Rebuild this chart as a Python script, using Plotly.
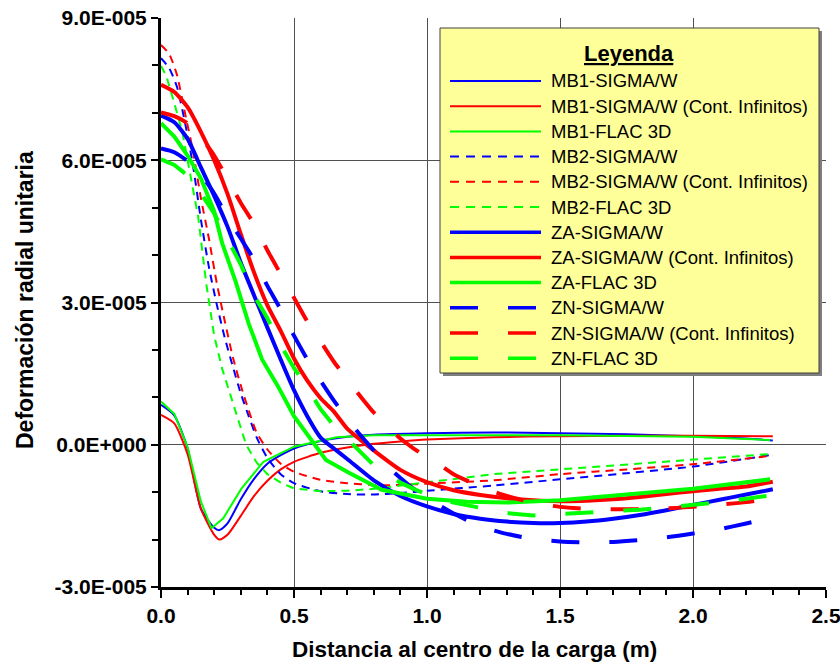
import plotly.graph_objects as go

# ---------------- data (y values in units of 1E-005) ----------------
x_mb1_sig = [0, 0.05, 0.1, 0.15, 0.2, 0.22, 0.25, 0.3, 0.35, 0.4, 0.45, 0.5, 0.6, 0.7, 0.8, 1.0, 1.25, 1.5, 1.75, 2.0, 2.2, 2.3]
y_mb1_sig = [0.84, 0.62, -0.08, -1.35, -1.75, -1.8, -1.66, -1.15, -0.72, -0.4, -0.22, -0.08, 0.08, 0.17, 0.21, 0.24, 0.26, 0.24, 0.22, 0.18, 0.13, 0.09]

x_mb1_inf = [0, 0.05, 0.1, 0.15, 0.2, 0.22, 0.25, 0.3, 0.35, 0.4, 0.45, 0.5, 0.6, 0.7, 0.8, 0.9, 1.0, 1.25, 1.5, 1.75, 2.0, 2.3]
y_mb1_inf = [0.63, 0.45, -0.2, -1.35, -1.9, -2.0, -1.9, -1.5, -1.08, -0.76, -0.52, -0.36, -0.17, -0.06, 0.02, 0.07, 0.11, 0.16, 0.18, 0.19, 0.19, 0.18]

x_mb1_flac = [0, 0.05, 0.1, 0.15, 0.19, 0.234, 0.303, 0.385, 0.5, 0.66, 0.8, 1.0, 1.5, 2.0, 2.29]
y_mb1_flac = [0.91, 0.65, -0.05, -1.2, -1.76, -1.55, -0.92, -0.36, -0.04, 0.16, 0.2, 0.2, 0.2, 0.17, 0.1]

x_mb2_sig = [0, 0.03, 0.06, 0.09, 0.12, 0.15, 0.18, 0.21, 0.24, 0.27, 0.3, 0.33, 0.36, 0.4, 0.45, 0.5, 0.6, 0.7, 0.8, 0.9, 1.0, 1.25, 1.5, 1.75, 2.0, 2.3]
y_mb2_sig = [8.15, 7.95, 7.55, 6.8, 5.9, 4.75, 3.75, 2.95, 2.25, 1.65, 1.08, 0.6, 0.15, -0.28, -0.62, -0.81, -0.98, -1.04, -1.05, -1.02, -0.97, -0.86, -0.73, -0.6, -0.46, -0.21]

x_mb2_inf = [0, 0.03, 0.06, 0.09, 0.12, 0.15, 0.18, 0.21, 0.24, 0.27, 0.3, 0.33, 0.36, 0.4, 0.45, 0.5, 0.6, 0.7, 0.8, 0.9, 1.0, 1.25, 1.5, 1.75, 2.0, 2.3]
y_mb2_inf = [8.43, 8.25, 7.8, 7.0, 6.2, 5.2, 4.35, 3.4, 2.6, 1.85, 1.25, 0.72, 0.25, -0.1, -0.4, -0.57, -0.74, -0.81, -0.85, -0.85, -0.82, -0.75, -0.62, -0.52, -0.41, -0.23]

x_mb2_flac = [0, 0.02, 0.05, 0.08, 0.11, 0.14, 0.17, 0.2, 0.23, 0.26, 0.29, 0.32, 0.36, 0.4, 0.45, 0.5, 0.6, 0.7, 0.8, 0.9, 1.0, 1.1, 1.25, 1.5, 1.75, 2.0, 2.3]
y_mb2_flac = [7.99, 7.78, 7.2, 6.6, 5.7, 4.8, 3.4, 2.3, 1.6, 1.05, 0.5, 0.0, -0.38, -0.62, -0.8, -0.92, -0.98, -0.97, -0.93, -0.86, -0.78, -0.71, -0.62, -0.52, -0.42, -0.32, -0.19]

x_za_sig = [0, 0.05, 0.1, 0.15, 0.2, 0.25, 0.3, 0.35, 0.4, 0.45, 0.5, 0.55, 0.6, 0.65, 0.7, 0.8, 0.9, 1.0, 1.1, 1.2, 1.3, 1.4, 1.5, 1.6, 1.7, 1.8, 1.9, 2.0, 2.1, 2.2, 2.3]
y_za_sig = [6.94, 6.8, 6.45, 5.85, 5.25, 4.6, 3.84, 3.15, 2.47, 1.8, 1.15, 0.6, 0.15, -0.08, -0.3, -0.75, -1.08, -1.3, -1.46, -1.56, -1.62, -1.65, -1.65, -1.62, -1.56, -1.48, -1.38, -1.27, -1.16, -1.05, -0.94]

x_za_inf = [0, 0.05, 0.1, 0.15, 0.2, 0.25, 0.3, 0.35, 0.4, 0.45, 0.5, 0.55, 0.6, 0.65, 0.7, 0.75, 0.8, 0.9, 1.0, 1.1, 1.2, 1.3, 1.4, 1.5, 1.6, 1.7, 1.8, 1.9, 2.0, 2.1, 2.2, 2.3]
y_za_inf = [7.59, 7.44, 7.12, 6.6, 6.0, 5.29, 4.44, 3.63, 2.94, 2.4, 1.82, 1.35, 0.98, 0.7, 0.34, 0.1, -0.12, -0.53, -0.79, -0.96, -1.06, -1.13, -1.17, -1.19, -1.18, -1.15, -1.1, -1.04, -0.98, -0.93, -0.88, -0.78]

x_za_flac = [0, 0.05, 0.1, 0.15, 0.2, 0.23, 0.28, 0.33, 0.38, 0.44, 0.5, 0.62, 0.71, 0.83, 1.0, 1.15, 1.3, 1.5, 2.0, 2.29]
y_za_flac = [6.78, 6.5, 6.1, 5.62, 4.92, 4.25, 3.45, 2.55, 1.8, 1.23, 0.6, -0.32, -0.6, -0.95, -1.14, -1.2, -1.22, -1.17, -0.93, -0.73]

x_zn_sig = [0, 0.05, 0.1, 0.15, 0.2, 0.25, 0.3, 0.35, 0.4, 0.45, 0.5, 0.55, 0.6, 0.65, 0.7, 0.75, 0.8, 0.85, 0.9, 0.95, 1.0, 1.1, 1.2, 1.3, 1.4, 1.5, 1.6, 1.7, 1.8, 1.9, 2.0, 2.1, 2.2, 2.3]
y_zn_sig = [6.25, 6.17, 5.98, 5.7, 5.3, 4.8, 4.35, 3.9, 3.35, 2.85, 2.3, 1.8, 1.35, 0.93, 0.55, 0.2, -0.12, -0.45, -0.7, -0.93, -1.12, -1.45, -1.72, -1.88, -1.99, -2.04, -2.06, -2.05, -2.01, -1.95, -1.87, -1.78, -1.66, -1.53]

x_zn_inf = [0, 0.05, 0.1, 0.15, 0.2, 0.25, 0.3, 0.35, 0.4, 0.45, 0.5, 0.55, 0.6, 0.65, 0.7, 0.75, 0.8, 0.85, 0.9, 0.95, 1.0, 1.05, 1.1, 1.2, 1.3, 1.4, 1.5, 1.6, 1.7, 1.8, 1.9, 2.0, 2.1, 2.2, 2.3]
y_zn_inf = [7.01, 6.93, 6.78, 6.48, 6.1, 5.6, 5.1, 4.65, 4.1, 3.6, 3.1, 2.6, 2.18, 1.75, 1.38, 1.02, 0.68, 0.4, 0.13, -0.08, -0.26, -0.43, -0.62, -0.88, -1.08, -1.22, -1.31, -1.35, -1.36, -1.36, -1.34, -1.31, -1.26, -1.21, -1.12]

x_zn_flac = [0, 0.05, 0.1, 0.15, 0.2, 0.25, 0.3, 0.35, 0.4, 0.45, 0.5, 0.55, 0.6, 0.65, 0.7, 0.75, 0.8, 0.85, 0.9, 0.95, 1.0, 1.1, 1.2, 1.3, 1.4, 1.5, 1.6, 1.7, 1.8, 1.9, 2.0, 2.1, 2.2, 2.3]
y_zn_flac = [6.02, 5.9, 5.68, 5.3, 4.88, 4.35, 3.8, 3.15, 2.67, 2.1, 1.62, 1.2, 0.75, 0.4, 0.12, -0.17, -0.43, -0.63, -0.8, -0.93, -1.05, -1.22, -1.33, -1.44, -1.49, -1.46, -1.44, -1.41, -1.37, -1.32, -1.27, -1.21, -1.14, -1.06]

names = ["MB1-SIGMA/W", "MB1-SIGMA/W (Cont. Infinitos)", "MB1-FLAC 3D",
         "MB2-SIGMA/W", "MB2-SIGMA/W (Cont. Infinitos)", "MB2-FLAC 3D",
         "ZA-SIGMA/W", "ZA-SIGMA/W (Cont. Infinitos)", "ZA-FLAC 3D",
         "ZN-SIGMA/W", "ZN-SIGMA/W (Cont. Infinitos)", "ZN-FLAC 3D"]
xs = [x_mb1_sig, x_mb1_inf, x_mb1_flac, x_mb2_sig, x_mb2_inf, x_mb2_flac,
      x_za_sig, x_za_inf, x_za_flac, x_zn_sig, x_zn_inf, x_zn_flac]
ys = [y_mb1_sig, y_mb1_inf, y_mb1_flac, y_mb2_sig, y_mb2_inf, y_mb2_flac,
      y_za_sig, y_za_inf, y_za_flac, y_zn_sig, y_zn_inf, y_zn_flac]

y_tick_vals = [-3e-5, 0, 3e-5, 6e-5, 9e-5]
y_tick_text = ["-3.0E-005", "0.0E+000", "3.0E-005", "6.0E-005", "9.0E-005"]
x_tick_vals = [0, 0.5, 1.0, 1.5, 2.0, 2.5]
x_tick_text = ["0.0", "0.5", "1.0", "1.5", "2.0", "2.5"]

# ---------------- styles ----------------
colors = ["#0000FF", "#FF0000", "#00FF00"] * 4
widths = [2] * 6 + [4] * 6
dashes = ["solid"] * 3 + ["8px,6px"] * 3 + ["solid"] * 3 + ["28px,30px"] * 3
shapes_line = ["spline", "spline", "linear"] * 4

FONT = "Liberation Sans, Arial, sans-serif"

fig = go.Figure()
for i in range(12):
    fig.add_trace(go.Scatter(
        x=xs[i], y=[v * 1e-5 for v in ys[i]], mode="lines", name=names[i],
        line=dict(color=colors[i], width=widths[i], dash=dashes[i],
                  shape=shapes_line[i], smoothing=0.6 if shapes_line[i] == "spline" else None),
        showlegend=False, hoverinfo="skip"))

# plot area in page pixels (body margin removed by post_script)
L, R, T, B = 161, 826, 18, 587
W, H = 840, 666
def px_x(p):
    return (p - L) / (R - L)
def px_y(p):
    return (B - p) / (B - T)

shapes = []
annotations = []
# legend box with shadow
shapes.append(dict(type="rect", xref="paper", yref="paper",
                   x0=px_x(443), x1=px_x(822), y0=px_y(376), y1=px_y(31),
                   fillcolor="#7f7f7f", line=dict(width=0), layer="above"))
shapes.append(dict(type="rect", xref="paper", yref="paper",
                   x0=px_x(440), x1=px_x(819), y0=px_y(373), y1=px_y(28),
                   fillcolor="#FFFF99", line=dict(color="#404040", width=1), layer="above"))
annotations.append(dict(xref="paper", yref="paper", x=px_x(629), y=px_y(54),
                        text="<b><u>Leyenda</u></b>", showarrow=False,
                        font=dict(family=FONT, size=22, color="black"),
                        xanchor="center", yanchor="middle"))
for i in range(12):
    yy = px_y(81 + 25.2 * i)
    shapes.append(dict(type="line", xref="paper", yref="paper",
                       x0=px_x(450), x1=px_x(541), y0=yy, y1=yy,
                       line=dict(color=colors[i], width=widths[i] - 0.5 if widths[i] > 2 else widths[i],
                                 dash="9px,7px" if dashes[i] == "8px,6px" else dashes[i]),
                       layer="above"))
    annotations.append(dict(xref="paper", yref="paper", x=px_x(549), y=yy,
                            text=names[i], showarrow=False,
                            font=dict(family=FONT, size=18.5, color="black"),
                            xanchor="left", yanchor="middle"))

# axis titles
annotations.append(dict(xref="paper", yref="paper", x=px_x(474), y=px_y(649),
                        text="<b>Distancia al centro de la carga (m)</b>", showarrow=False,
                        font=dict(family=FONT, size=22.5, color="black"),
                        xanchor="center", yanchor="middle"))
annotations.append(dict(xref="paper", yref="paper", x=px_x(25), y=px_y(300),
                        text="<b>Deformación radial unitaria</b>", showarrow=False, textangle=-90,
                        font=dict(family=FONT, size=23, color="black"),
                        xanchor="center", yanchor="middle"))

fig.update_layout(
    width=W, height=H,
    margin=dict(l=L, r=W - R, t=T, b=H - B, autoexpand=False),
    paper_bgcolor="white", plot_bgcolor="white",
    font=dict(family=FONT, color="black"),
    shapes=shapes, annotations=annotations, showlegend=False,
)
fig.update_xaxes(
    range=[0, 2.5], tickmode="array", tickvals=x_tick_vals, ticktext=x_tick_text,
    tickfont=dict(family=FONT, size=21, color="black", weight="bold"),
    ticklabeloverflow="allow",
    showline=True, linecolor="black", linewidth=3,
    ticks="outside", ticklen=8, tickwidth=2, tickcolor="black",
    minor=dict(dtick=0.1, tick0=0, ticks="outside", ticklen=5, tickwidth=2, tickcolor="black", showgrid=False),
    showgrid=True, gridcolor="#505050", gridwidth=1, zeroline=False,
)
fig.update_yaxes(
    range=[-3e-5, 9e-5], tickmode="array", tickvals=y_tick_vals, ticktext=y_tick_text,
    tickfont=dict(family=FONT, size=21, color="black", weight="bold"),
    ticklabeloverflow="allow",
    showline=True, linecolor="black", linewidth=3,
    ticks="outside", ticklen=7, tickwidth=2, tickcolor="black",
    minor=dict(dtick=1e-5, tick0=0, ticks="outside", ticklen=6, tickwidth=2, tickcolor="black", showgrid=False),
    showgrid=True, gridcolor="#505050", gridwidth=1, zeroline=False,
)

fig.write_html("out.html", config={"displayModeBar": False, "staticPlot": True},
               post_script="document.body.style.margin='0';document.body.style.overflow='hidden';")
